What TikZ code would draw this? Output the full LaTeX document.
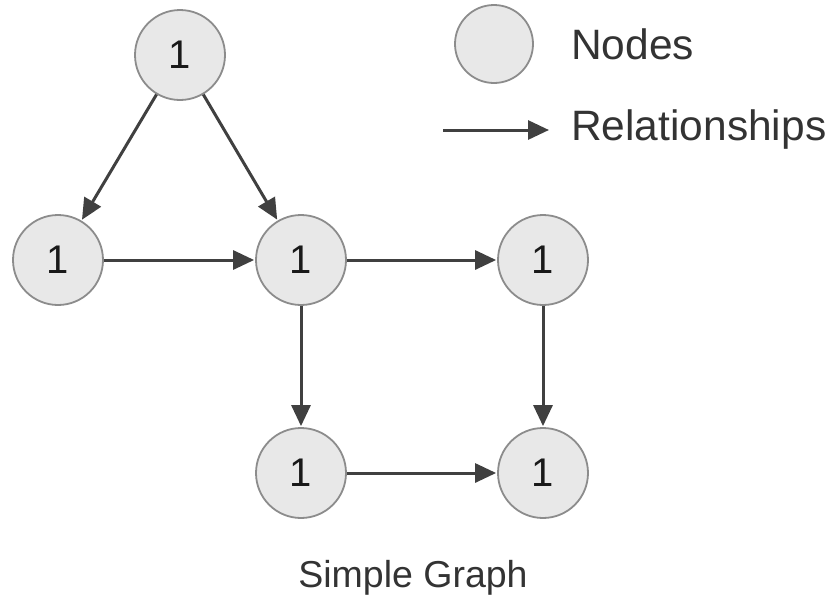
\documentclass[tikz,border=0pt]{standalone}
\usepackage{fontspec}
\setmainfont{Liberation Sans}
\usetikzlibrary{arrows.meta}
\begin{document}
\begin{tikzpicture}[x=1pt,y=-1pt,
  gnode/.style={circle,draw=black!45,line width=1.8pt,fill=black!9,minimum size=90pt,inner sep=0pt,font=\fontsize{40}{44}\selectfont,text=black!90},
  lnode/.style={circle,draw=black!45,line width=1.8pt,fill=black!9,minimum size=78pt,inner sep=0pt},
  rel/.style={draw=black!75,line width=3pt,-{Triangle[length=21pt,width=19pt]},shorten >=1pt},
  lbl/.style={font=\fontsize{42.5}{46}\selectfont,text=black!80,anchor=west,inner sep=0pt}]
\useasboundingbox (0,0) rectangle (831,598);
\node[gnode] (t) at (180,55) {1};
\node[gnode] (l) at (58,260) {1};
\node[gnode] (c) at (301,260) {1};
\node[gnode] (r) at (543,260) {1};
\node[gnode] (bc) at (301,473) {1};
\node[gnode] (br) at (543,473) {1};
\draw[rel] (t) -- (l);
\draw[rel] (t) -- (c);
\draw[rel] (l) -- (c);
\draw[rel] (c) -- (r);
\draw[rel] (c) -- (bc);
\draw[rel] (r) -- (br);
\draw[rel] (bc) -- (br);
\node[lnode] (ln) at (494,44) {};
\coordinate (la) at (443,130);
\coordinate (lb) at (549,130);
\draw[rel,shorten >=0pt] (la) -- (lb);
\node[lbl] (tn) at (571,44) {Nodes};
\node[lbl] (tr) at (571,130) {Relationships};
\node[font=\fontsize{37.5}{40}\selectfont,text=black!80,inner sep=0pt] (cap) at (413,578) {Simple Graph};
\end{tikzpicture}
\end{document}
